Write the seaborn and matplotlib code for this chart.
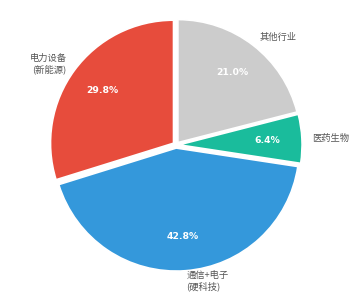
import matplotlib
matplotlib.use("Agg")
import matplotlib.pyplot as plt
import seaborn as sns

sns.set_theme(style="white")
plt.rcParams['font.family'] = ['Noto Sans CJK SC', 'DejaVu Sans']

labels = ["其他行业", "医药生物", "通信+电子\n(硬科技)", "电力设备\n(新能源)"]
values = [21.0, 6.4, 42.8, 29.8]
colors = ["#cccccc", "#1abc9c", "#3498db", "#e74c3c"]

fig = plt.figure(figsize=(3.55, 3.06), dpi=100)
r_px = 123
cx, cy = 176, 145
ext = 1.0
ax = fig.add_axes([(cx - r_px * ext) / 355, (306 - cy - r_px * ext) / 306,
                   2 * r_px * ext / 355, 2 * r_px * ext / 306])
wedges, texts, autotexts = ax.pie(
    values, labels=labels, colors=colors, startangle=90, counterclock=False,
    explode=[0.025] * 4, autopct="%.1f%%", pctdistance=0.72, labeldistance=1.08,
    wedgeprops=dict(edgecolor="white", linewidth=1.2, clip_on=False),
    textprops=dict(fontsize=6.7, color="#555555"))
for t in autotexts:
    t.set_color("white")
    t.set_fontweight("bold")
    t.set_fontfamily("DejaVu Sans")
    t.set_fontsize(6.7)
ax.set_xlim(-ext, ext)
ax.set_ylim(-ext, ext)
ax.set_aspect("equal")
fig.savefig("out.png", dpi=100)
